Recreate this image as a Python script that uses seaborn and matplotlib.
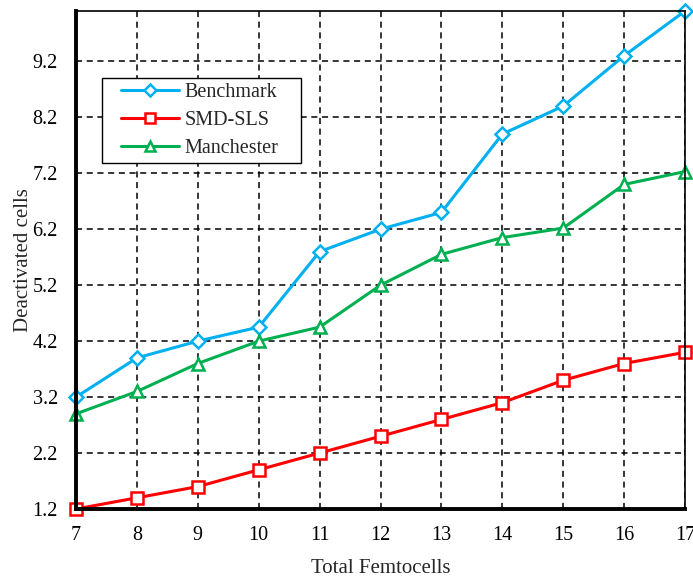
import matplotlib
matplotlib.use("Agg")
import matplotlib.pyplot as plt
from matplotlib.legend_handler import HandlerLine2D
import seaborn as sns
import pandas as pd

femtocells = [7, 8, 9, 10, 11, 12, 13, 14, 15, 16, 17]
benchmark = [3.2, 3.9, 4.2, 4.45, 5.8, 6.2, 6.5, 7.9, 8.4, 9.3, 10.1]
smd_sls = [1.2, 1.4, 1.6, 1.9, 2.2, 2.5, 2.8, 3.1, 3.5, 3.8, 4.0]
manchester = [2.9, 3.3, 3.8, 4.2, 4.45, 5.2, 5.75, 6.05, 6.22, 7.0, 7.23]
y_ticks = [1.2, 2.2, 3.2, 4.2, 5.2, 6.2, 7.2, 8.2, 9.2]

sns.set_style("white")
plt.rcParams["font.family"] = ["Liberation Serif", "DejaVu Serif"]

fig = plt.figure(figsize=(6.93, 5.78), dpi=100)
ax = fig.add_axes([0.1097, 0.1194, 0.8788, 0.8616])

series = [
    ("Benchmark", benchmark, "#00b0f0", "D", 7.5),
    ("SMD-SLS", smd_sls, "#ff0000", "s", 9),
    ("Manchester", manchester, "#00b050", "^", 9),
]
for name, vals, color, marker, ms in series:
    df = pd.DataFrame({"Total Femtocells": femtocells, "Deactivated cells": vals})
    sns.lineplot(data=df, x="Total Femtocells", y="Deactivated cells", ax=ax,
                 color=color, linewidth=2.2, marker=marker, markersize=ms,
                 markerfacecolor="white", markeredgecolor=color,
                 markeredgewidth=1.8, label=name, zorder=3, clip_on=False)

ax.set_xlim(7, 17)
ax.set_ylim(1.2, 10.1)
ax.set_xticks(femtocells)
ax.set_yticks(y_ticks)
ax.set_yticklabels([f"{v:.1f}" for v in y_ticks])
ax.tick_params(length=0, labelsize=14.5, colors="black")
ax.tick_params(axis="x", pad=12.5)
ax.tick_params(axis="y", pad=13)
ax.grid(True, color="black", linestyle=(0, (4, 3)), linewidth=1.1)
ax.set_axisbelow(True)

for side in ["left", "bottom"]:
    ax.spines[side].set_linewidth(2.8)
for side in ["top", "right"]:
    ax.spines[side].set_linewidth(1.2)
for sp in ax.spines.values():
    sp.set_color("black")
    sp.set_zorder(4)

ax.set_xlabel("Total Femtocells", fontsize=15, labelpad=10)
ax.set_ylabel("Deactivated cells", fontsize=15, labelpad=0)

handles, labels = ax.get_legend_handles_labels()
leg = ax.legend(handles, labels, loc="upper left",
                bbox_to_anchor=(0.042, 0.0, 0.327, 0.8655), mode="expand",
                fontsize=14.5, frameon=True, fancybox=False, framealpha=1,
                edgecolor="black", handlelength=3.6, borderpad=0.25,
                labelspacing=0.45, handletextpad=0.28, borderaxespad=0,
                markerscale=0.8,
                handler_map={h: HandlerLine2D(xpad=0.7) for h in handles})
leg.get_frame().set_linewidth(1.0)

fig.savefig("out.png", dpi=100)
